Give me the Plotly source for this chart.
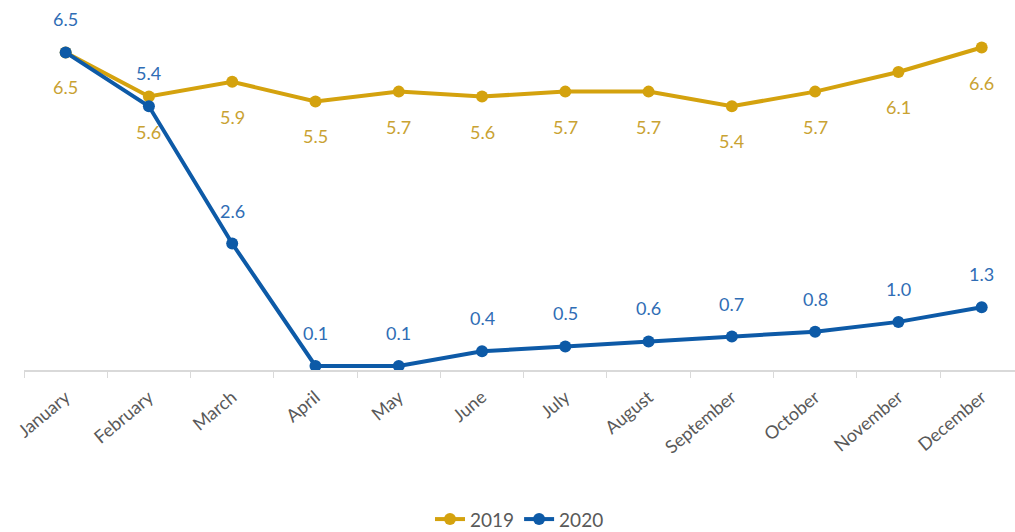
import plotly.graph_objects as go

months = ["January", "February", "March", "April", "May", "June", "July",
          "August", "September", "October", "November", "December"]
values_2019 = [6.5, 5.6, 5.9, 5.5, 5.7, 5.6, 5.7, 5.7, 5.4, 5.7, 6.1, 6.6]
values_2020 = [6.5, 5.4, 2.6, 0.1, 0.1, 0.4, 0.5, 0.6, 0.7, 0.8, 1.0, 1.3]

GOLD = "#D4A20E"
GOLD_TXT = "#C9A232"
BLUE = "#0D5AA7"
BLUE_TXT = "#2F6DB5"
FONT = "Lato, Open Sans, sans-serif"

fig = go.Figure()
fig.add_trace(go.Scatter(
    x=months, y=values_2019, name="2019", mode="lines+markers",
    line=dict(color=GOLD, width=4), marker=dict(color=GOLD, size=12),
    cliponaxis=False,
))
fig.add_trace(go.Scatter(
    x=months, y=values_2020, name="2020", mode="lines+markers",
    line=dict(color=BLUE, width=4), marker=dict(color=BLUE, size=12),
    cliponaxis=False,
))

annotations = []
for m, v in zip(months, values_2019):
    annotations.append(dict(x=m, y=v, text=f"{v:.1f}", showarrow=False,
                            yshift=-35, font=dict(color=GOLD_TXT, size=18, family=FONT)))
for m, v in zip(months, values_2020):
    annotations.append(dict(x=m, y=v, text=f"{v:.1f}", showarrow=False,
                            yshift=33, font=dict(color=BLUE_TXT, size=18, family=FONT)))

fig.update_layout(
    width=1015, height=532,
    margin=dict(l=24, r=0, t=0, b=162, autoexpand=False),
    paper_bgcolor="white", plot_bgcolor="white",
    font=dict(family=FONT, color="#595959"),
    showlegend=True,
    legend=dict(orientation="h", x=0.5, xanchor="center",
                yref="container", y=0.024, yanchor="middle",
                font=dict(size=19, color="#595959", family=FONT)),
    annotations=annotations,
    xaxis=dict(
        type="category", range=[-0.5, 11.4], automargin=False,
        showline=True, linecolor="#D9D9D9", linewidth=1.5,
        ticks="outside", tickson="boundaries", ticklen=6, tickcolor="#D9D9D9",
        tickangle=-40, tickfont=dict(size=18, color="#595959", family=FONT),
        ticklabelstandoff=8,
        showgrid=False,
    ),
    yaxis=dict(range=[0.018, 7.57], visible=False, showgrid=False, zeroline=False),
)

fig.write_html("out.html")
